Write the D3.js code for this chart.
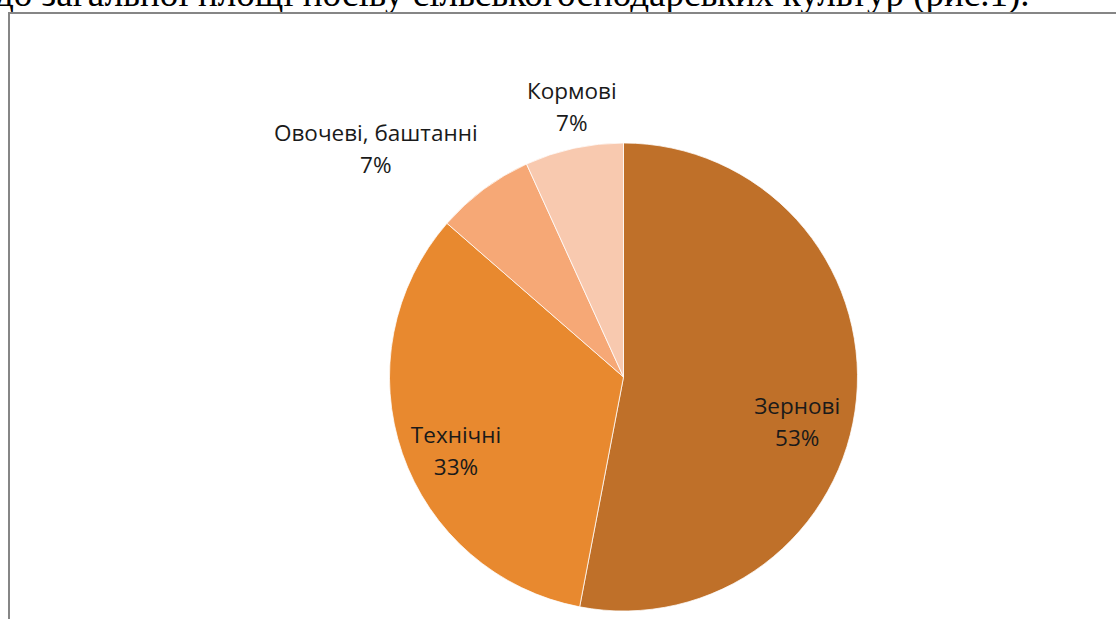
<!DOCTYPE html>
<html>
<head>
<meta charset="utf-8">
<script src="https://cdn.jsdelivr.net/npm/d3@7"></script>
<style>
  html, body { margin: 0; padding: 0; background: #fff; overflow: hidden; }
  svg { display: block; }
</style>
</head>
<body>
<svg id="chart" width="1116" height="619"></svg>
<script>
// ----------------------------------------------------------------------------
// data: share of crop areas
// ----------------------------------------------------------------------------
const categories = ['Зернові', 'Технічні', 'Овочеві, баштанні', 'Кормові'];
const shares = [53.0, 33.4, 6.8, 6.8];
const colours = ['#BF7029', '#E8892F', '#F6A876', '#F8C9AF'];
const captionText = 'до загальної площі посіву сільськогосподарських культур (рис.1).';

const W = 1116, H = 619;
const cx = 623.5, cy = 377, R = 234;

const svg = d3.select('#chart');

// ----------------------------------------------------------------------------
// text of the document above the chart (cut off at the top)
// ----------------------------------------------------------------------------
const caption = svg.append('text')
  .attr('x', -5)
  .attr('y', 6)
  .style('font-family', '"Liberation Serif", "Times New Roman", serif')
  .style('font-size', '32px')
  .attr('fill', '#000')
  .text(captionText);

// fit the line to the width it has on the page
const capLen = caption.node().getComputedTextLength();
caption.style('font-size', `${32 * 1035 / capLen}px`);

// chart frame, runs out of the picture right and bottom
svg.append('rect')
  .attr('x', 9)
  .attr('y', 13)
  .attr('width', W + 20)
  .attr('height', H + 20)
  .attr('fill', '#fff')
  .attr('stroke', '#868686')
  .attr('stroke-width', 2);

// ----------------------------------------------------------------------------
// pie
// ----------------------------------------------------------------------------
const rows = categories.map((c, i) => ({ name: c, value: shares[i], colour: colours[i] }));
const total = d3.sum(shares);

const pie = d3.pie().sort(null).value(d => d.value);
const arcs = pie(rows);

const arc = d3.arc().innerRadius(0).outerRadius(R);

const g = svg.append('g').attr('transform', `translate(${cx},${cy})`);

g.selectAll('path')
  .data(arcs)
  .enter()
  .append('path')
  .attr('d', arc)
  .attr('fill', d => d.data.colour)
  .attr('stroke', '#fff')
  .attr('stroke-width', 0.75);

// ----------------------------------------------------------------------------
// labels: big slices inside, small ones outside next to the rim
// ----------------------------------------------------------------------------
const pct = d3.format('.0%');
const fontSize = 22.5, lineH = 32;
// small nudges so the inside labels sit where Excel put them
const insideNudge = { 'Зернові': [-8, 28], 'Технічні': [5, 14] };

arcs.forEach(d => {
  const mid = (d.startAngle + d.endAngle) / 2;
  const lines = [d.data.name, pct(d.data.value / total)];
  const t = g.append('text')
    .style('font-family', '"Open Sans", "Noto Sans", sans-serif')
    .style('font-size', `${fontSize}px`)
    .attr('fill', '#1a1a1a');

  let x, yTop, anchor;
  const inside = (d.endAngle - d.startAngle) > 0.8;
  if (inside) {
    const c = d3.arc().innerRadius(0).outerRadius(R * 1.56).centroid(d);
    const n = insideNudge[d.data.name] || [0, 0];
    x = c[0] + n[0];
    yTop = c[1] + n[1] - lineH;
    anchor = 'middle';
  } else {
    const px = Math.sin(mid) * (R + 10);
    const py = -Math.cos(mid) * (R + 10);
    const s = Math.sin(mid);
    anchor = s < -0.4 ? 'end' : (s > 0.4 ? 'start' : 'middle');
    x = px;
    yTop = py - lineH * 2;
  }
  lines.forEach((ln, k) => {
    t.append('tspan')
      .attr('x', x)
      .attr('y', yTop + 24 + k * lineH)
      .attr('text-anchor', 'middle')
      .text(ln);
  });
  // multi-line block: centre the lines on each other like Excel does
  if (anchor !== 'middle') {
    const wBox = t.node().getBBox().width;
    const shift = anchor === 'end' ? -wBox / 2 : wBox / 2;
    t.selectAll('tspan').attr('x', x + shift);
  }
});
</script>
</body>
</html>
